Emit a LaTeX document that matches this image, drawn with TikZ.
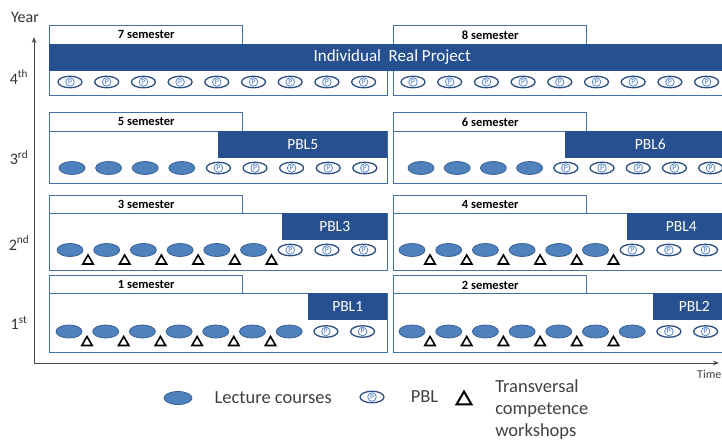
\documentclass[tikz,border=0pt]{standalone}
\usepackage{fontspec}
\setmainfont{Carlito}
\usetikzlibrary{shapes.geometric,positioning,arrows.meta}

\definecolor{boxblue}{RGB}{65,113,165}
\definecolor{barblue}{RGB}{38,80,144}
\definecolor{lecblue}{RGB}{79,129,189}
\definecolor{lecedge}{RGB}{56,96,148}
\definecolor{pbledge}{RGB}{44,78,128}
\definecolor{ptext}{RGB}{70,120,200}
\definecolor{axisgray}{RGB}{70,70,70}

\begin{document}
\begin{tikzpicture}[x=1pt, y=-1pt,
	semlabel/.style={rectangle, draw=boxblue, line width=1.4pt, fill=white, anchor=north west, minimum width=193pt, minimum height=18.5pt, inner sep=0pt, font=\fontsize{12.5}{14}\selectfont\bfseries},
	sembox/.style={rectangle, draw=boxblue, line width=1.4pt, fill=white, anchor=north west, inner sep=0pt},
	pblbar/.style={rectangle, fill=barblue, text=white, anchor=north west, minimum height=27pt, inner sep=0pt, font=\fontsize{15.5}{17}\selectfont},
	lecture/.style={ellipse, draw=lecedge, line width=0.8pt, fill=lecblue, minimum width=26pt, minimum height=13pt, inner sep=0pt},
	pbl/.style={ellipse, draw=pbledge, line width=1.3pt, fill=white, minimum width=24pt, minimum height=11.5pt, inner sep=0pt, text=ptext, font=\fontsize{7.5}{8}\selectfont,
		path picture={\draw[ptext, line width=0.7pt] (path picture bounding box.center) circle (4.3pt);}},
	workshop/.style={regular polygon, regular polygon sides=3, draw=black, line width=1.6pt, fill=white, minimum size=12pt, inner sep=0pt},
	yearlab/.style={font=\fontsize{16}{18}\selectfont, text=black!80},
	legtext/.style={font=\fontsize{18.5}{22}\selectfont, text=black!75, inner sep=0pt, anchor=west},
	axis/.style={draw=axisgray, line width=1pt, -{Stealth[length=6pt,width=4.5pt]}}
	]
	\useasboundingbox (0,0) rectangle (722,442);
	
	% axes
	\coordinate (orig) at (34,363);
	\coordinate (ytop) at (34,37);
	\coordinate (tend) at (719,363);
	\draw[axis] (orig) -- (ytop);
	\draw[axis] (orig) -- (tend);
	\node[yearlab] (year) at (25,17) {Year};
	\node[font=\fontsize{12}{14}\selectfont, text=black!75, anchor=west, inner sep=0pt] (time) at (697,374) {Time};
	\node[yearlab] (y4) at (19,77) {4\textsuperscript{th}};
	\node[yearlab] (y3) at (19,158) {3\textsuperscript{rd}};
	\node[yearlab] (y2) at (19,243) {2\textsuperscript{nd}};
	\node[yearlab] (y1) at (19,323) {1\textsuperscript{st}};
	
	% 4th year
	\begin{scope}[shift={(49,25)}]
		\node[semlabel] (s7lab) at (0,0) {7 semester};
		\node[sembox, minimum width=338pt, minimum height=51.5pt] (s7box) at (0,18.5) {};
		\foreach \k in {0,...,8}
			\node[pbl] (s7c\k) at ({21+36.7*\k},57) {P};
	\end{scope}
	\begin{scope}[shift={(393,25)}]
		\node[semlabel] (s8lab) at (0,0) {8 semester};
		\node[sembox, minimum width=342pt, minimum height=51.5pt] (s8box) at (0,18.5) {};
		\foreach \k in {0,...,8}
			\node[pbl] (s8c\k) at ({20+36.7*\k},57) {P};
	\end{scope}
	\node[pblbar, minimum width=686pt, font=\fontsize{17}{19}\selectfont] (irp) at (49,43.5) {Individual~ Real Project};
	
	% 3rd year
	\begin{scope}[shift={(49,112)}]
		\node[semlabel] (s5lab) at (0,0) {5 semester};
		\node[sembox, minimum width=338pt, minimum height=52pt] (s5box) at (0,19) {};
		\node[pblbar, minimum width=169pt] (pbl5) at (169,19) {PBL5};
		\foreach \k in {0,...,3}
			\node[lecture] (s5c\k) at ({23+36.6*\k},56) {};
		\foreach \k in {4,...,8}
			\node[pbl] (s5c\k) at ({23+36.6*\k},56) {P};
	\end{scope}
	\begin{scope}[shift={(393,112)}]
		\node[semlabel] (s6lab) at (0,0) {6 semester};
		\node[sembox, minimum width=342pt, minimum height=52pt] (s6box) at (0,19) {};
		\node[pblbar, minimum width=170pt] (pbl6) at (172,19) {PBL6};
		\foreach \k in {0,...,3}
			\node[lecture] (s6c\k) at ({28+36.2*\k},56) {};
		\foreach \k in {4,...,8}
			\node[pbl] (s6c\k) at ({28+36.2*\k},56) {P};
	\end{scope}
	
	% 2nd year
	\begin{scope}[shift={(49,194.5)}]
		\node[semlabel] (s3lab) at (0,0) {3 semester};
		\node[sembox, minimum width=338pt, minimum height=57pt] (s3box) at (0,18.5) {};
		\node[pblbar, minimum width=105pt] (pbl3) at (233,18.5) {PBL3};
		\foreach \k in {0,...,5}
			\node[lecture] (s3c\k) at ({21+36.7*\k},55.5) {};
		\foreach \k in {6,...,8}
			\node[pbl] (s3c\k) at ({21+36.7*\k},55.5) {P};
		\foreach \k in {0,...,5}
			\node[workshop, xshift=18pt, yshift=-11pt] (s3w\k) at (s3c\k) {};
	\end{scope}
	\begin{scope}[shift={(393,194.5)}]
		\node[semlabel] (s4lab) at (0,0) {4 semester};
		\node[sembox, minimum width=342pt, minimum height=57pt] (s4box) at (0,18.5) {};
		\node[pblbar, minimum width=108pt] (pbl4) at (234,18.5) {PBL4};
		\foreach \k in {0,...,5}
			\node[lecture] (s4c\k) at ({19+36.7*\k},55.5) {};
		\foreach \k in {6,...,8}
			\node[pbl] (s4c\k) at ({19+36.7*\k},55.5) {P};
		\foreach \k in {0,...,5}
			\node[workshop, xshift=18pt, yshift=-11pt] (s4w\k) at (s4c\k) {};
	\end{scope}
	
	% 1st year
	\begin{scope}[shift={(49,275)}]
		\node[semlabel] (s1lab) at (0,0) {1 semester};
		\node[sembox, minimum width=338pt, minimum height=59pt] (s1box) at (0,18) {};
		\node[pblbar, minimum width=79pt] (pbl1) at (259,18) {PBL1};
		\foreach \k in {0,...,6}
			\node[lecture] (s1c\k) at ({20+36.7*\k},56.5) {};
		\foreach \k in {7,8}
			\node[pbl] (s1c\k) at ({20+36.7*\k},56.5) {P};
		\foreach \k in {0,...,5}
			\node[workshop, xshift=18pt, yshift=-11pt] (s1w\k) at (s1c\k) {};
	\end{scope}
	\begin{scope}[shift={(393,275)}]
		\node[semlabel] (s2lab) at (0,0) {2 semester};
		\node[sembox, minimum width=342pt, minimum height=59pt] (s2box) at (0,18) {};
		\node[pblbar, minimum width=82pt] (pbl2) at (260,18) {PBL2};
		\foreach \k in {0,...,6}
			\node[lecture] (s2c\k) at ({19+36.7*\k},56.5) {};
		\foreach \k in {7,8}
			\node[pbl] (s2c\k) at ({19+36.7*\k},56.5) {P};
		\foreach \k in {0,...,5}
			\node[workshop, xshift=18pt, yshift=-11pt] (s2w\k) at (s2c\k) {};
	\end{scope}
	
	% legend
	\node[lecture, minimum width=28pt, minimum height=13pt] (leglec) at (178,398) {};
	\node[legtext, right=22pt of leglec] (leglectxt) {Lecture courses};
	\node[pbl] (legpbl) at (372,397) {P};
	\node[legtext, right=26pt of legpbl] (legpbltxt) {PBL};
	\node[workshop, minimum size=17pt, line width=2pt] (legws) at (464,400) {};
	\node[legtext, right=25pt of legws, yshift=-10pt, align=left] (legwstxt) {Transversal\\competence\\workshops};
	
\end{tikzpicture}
\end{document}
